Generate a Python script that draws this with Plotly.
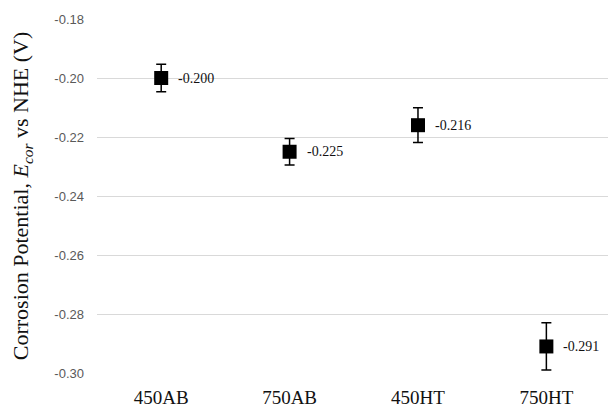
import plotly.graph_objects as go

samples = ["450AB", "750AB", "450HT", "750HT"]
e_cor = [-0.200, -0.225, -0.216, -0.291]
e_err = [0.0047, 0.0045, 0.0059, 0.0080]
y_ticks = [-0.30, -0.28, -0.26, -0.24, -0.22, -0.20, -0.18]

fig = go.Figure()
fig.add_trace(go.Scatter(
    x=samples, y=e_cor, mode="markers",
    marker=dict(symbol="square", size=14, color="black"),
    error_y=dict(type="data", array=e_err, visible=True,
                 color="black", thickness=1.5, width=5),
    showlegend=False,
))

for s, v in zip(samples, e_cor):
    fig.add_annotation(x=s, y=v, text=f"{v:.3f}", showarrow=False,
                       xanchor="left", yanchor="middle", xshift=15,
                       font=dict(family="Liberation Serif", size=14, color="#111"))

fig.update_layout(
    width=608, height=408,
    margin=dict(l=97, r=0, t=19, b=33),
    paper_bgcolor="white", plot_bgcolor="white",
    xaxis=dict(range=[-0.5, 3.48], showgrid=False, zeroline=False,
               showline=False, ticks="",
               tickfont=dict(family="Liberation Serif", size=19, color="#111"),
               ticklabelstandoff=11),
    yaxis=dict(range=[-0.30, -0.18], tickvals=y_ticks,
               ticktext=[f"{t:.2f}" for t in y_ticks],
               showgrid=True, gridcolor="#d9d9d9", gridwidth=1,
               zeroline=False, showline=False, ticks="",
               tickfont=dict(family="Liberation Sans", size=13, color="#595959"),
               ticklabelstandoff=12,
               title=dict(text="Corrosion Potential, <i>E<sub>cor</sub></i> vs NHE (V)",
                          font=dict(family="Liberation Serif", size=22, color="#111"),
                          standoff=19)),
)

fig.write_html("out.html")
